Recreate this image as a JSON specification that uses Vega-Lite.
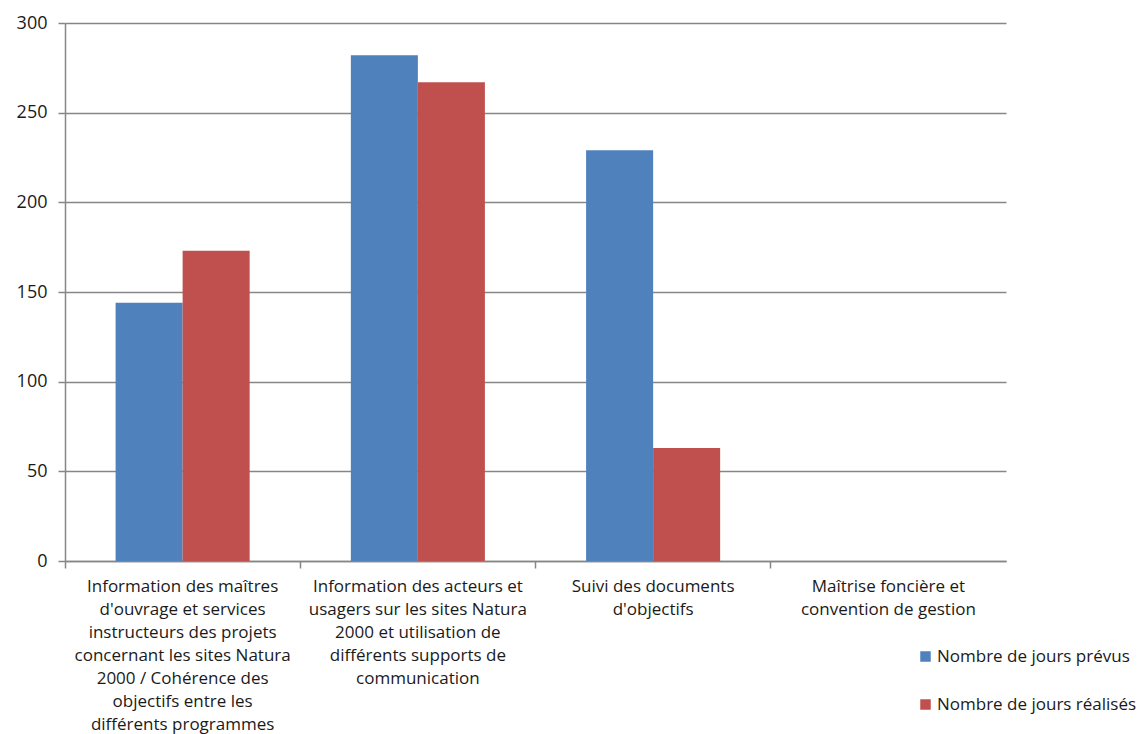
{
  "$schema": "https://vega.github.io/schema/vega-lite/v6.json",
  "width": 941,
  "height": 538,
  "autosize": {"type": "none"},
  "padding": {"left": 65, "top": 23, "right": 141, "bottom": 173},
  "background": "white",
  "config": {
    "view": {"stroke": null},
    "font": "Open Sans",
    "axis": {"labelFont": "Open Sans", "labelColor": "#1a1a1a", "labelFontSize": 17}
  },
  "data": {
    "values": [
      {"cat": "Information des maîtres|d'ouvrage et services|instructeurs des projets|concernant les sites Natura|2000 / Cohérence des|objectifs entre les|différents programmes", "serie": "Nombre de jours prévus", "jours": 144},
      {"cat": "Information des maîtres|d'ouvrage et services|instructeurs des projets|concernant les sites Natura|2000 / Cohérence des|objectifs entre les|différents programmes", "serie": "Nombre de jours réalisés", "jours": 173},
      {"cat": "Information des acteurs et|usagers sur les sites Natura|2000 et utilisation de|différents supports de|communication", "serie": "Nombre de jours prévus", "jours": 282},
      {"cat": "Information des acteurs et|usagers sur les sites Natura|2000 et utilisation de|différents supports de|communication", "serie": "Nombre de jours réalisés", "jours": 267},
      {"cat": "Suivi des documents|d'objectifs", "serie": "Nombre de jours prévus", "jours": 229},
      {"cat": "Suivi des documents|d'objectifs", "serie": "Nombre de jours réalisés", "jours": 63},
      {"cat": "Maîtrise foncière et|convention de gestion", "serie": "Nombre de jours prévus", "jours": 0},
      {"cat": "Maîtrise foncière et|convention de gestion", "serie": "Nombre de jours réalisés", "jours": 0}
    ]
  },
  "mark": {"type": "bar"},
  "encoding": {
    "x": {
      "field": "cat",
      "type": "nominal",
      "sort": null,
      "title": null,
      "scale": {"paddingInner": 0, "paddingOuter": 0},
      "axis": {
        "labelAngle": 0,
        "labelExpr": "split(datum.label, '|')",
        "labelLineHeight": 23,
        "labelPadding": 10,
        "labelBaseline": "top",
        "bandPosition": 0,
        "tickColor": "#868686",
        "tickSize": 7,
        "tickWidth": 1.5,
        "domainColor": "#868686",
        "domainWidth": 1.5,
        "grid": false,
        "labelLimit": 300
      }
    },
    "xOffset": {
      "field": "serie",
      "type": "nominal",
      "scale": {"paddingInner": 0, "paddingOuter": 0.755}
    },
    "y": {
      "field": "jours",
      "type": "quantitative",
      "title": null,
      "scale": {"domain": [0, 300]},
      "axis": {
        "values": [0, 50, 100, 150, 200, 250, 300],
        "gridColor": "#868686",
        "gridWidth": 1.5,
        "tickColor": "#868686",
        "tickSize": 7,
        "tickWidth": 1.5,
        "domainColor": "#868686",
        "domainWidth": 1.5,
        "labelFontSize": 18,
        "labelPadding": 11
      }
    },
    "color": {
      "field": "serie",
      "type": "nominal",
      "scale": {"domain": ["Nombre de jours prévus", "Nombre de jours réalisés"], "range": ["#4F81BD", "#C0504D"]},
      "legend": {
        "title": null,
        "orient": "none",
        "legendX": 852,
        "legendY": 625,
        "symbolType": "square",
        "symbolSize": 110,
        "symbolStrokeWidth": 0,
        "symbolOpacity": 1,
        "labelFontSize": 17,
        "labelFont": "Open Sans",
        "labelColor": "#1a1a1a",
        "labelOffset": 3,
        "rowPadding": 30,
        "padding": 0,
        "labelLimit": 300
      }
    }
  }
}
